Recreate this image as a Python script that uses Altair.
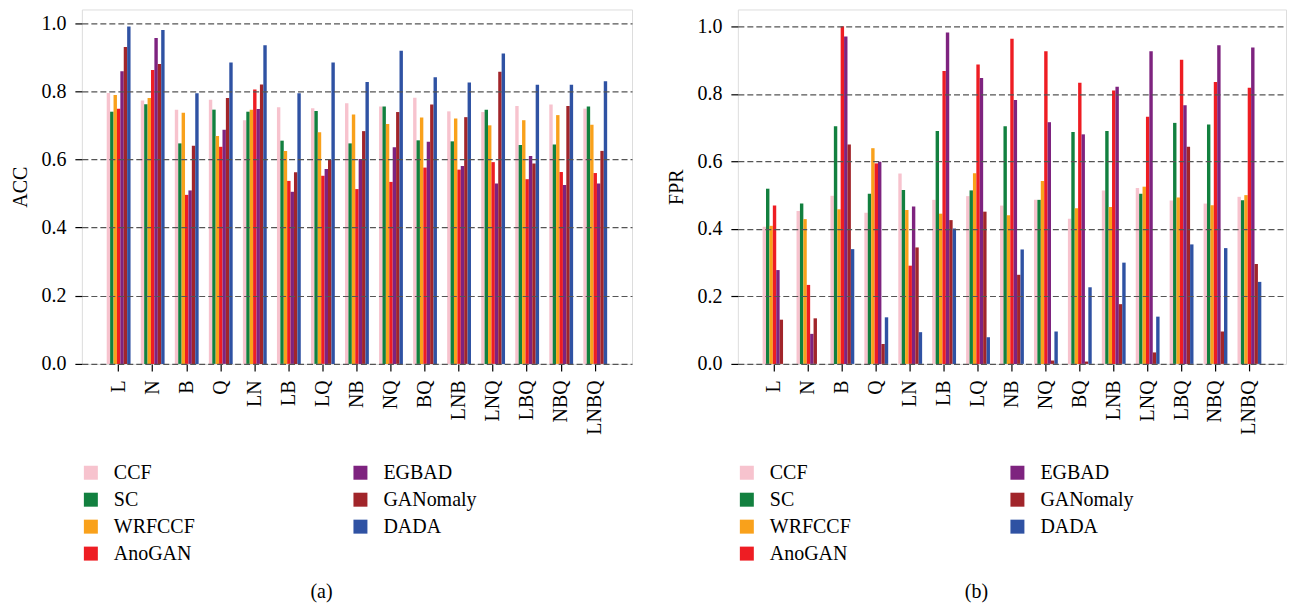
import altair as alt
import pandas as pd

categories = ["L", "N", "B", "Q", "LN", "LB", "LQ", "NB", "NQ", "BQ",
              "LNB", "LNQ", "LBQ", "NBQ", "LNBQ"]
series = ["CCF", "SC", "WRFCCF", "AnoGAN", "EGBAD", "GANomaly", "DADA"]
series_colors = ["#F7C3CE", "#12803F", "#F9A11B", "#EE1D23", "#7E237F", "#A1252A", "#2F52A3"]

# ACC values (panel a)
acc_ccf = [0.795, 0.773, 0.746, 0.775, 0.715, 0.753, 0.750, 0.765, 0.755, 0.781, 0.741, 0.739, 0.757, 0.761, 0.749]
acc_sc = [0.740, 0.762, 0.647, 0.746, 0.740, 0.655, 0.742, 0.647, 0.755, 0.656, 0.653, 0.746, 0.642, 0.644, 0.755]
acc_wrfccf = [0.789, 0.780, 0.737, 0.669, 0.746, 0.625, 0.680, 0.732, 0.704, 0.723, 0.720, 0.700, 0.715, 0.730, 0.702]
acc_anogan = [0.749, 0.862, 0.496, 0.637, 0.805, 0.537, 0.552, 0.513, 0.534, 0.576, 0.570, 0.592, 0.542, 0.563, 0.560]
acc_egbad = [0.859, 0.956, 0.509, 0.687, 0.748, 0.505, 0.572, 0.601, 0.636, 0.652, 0.581, 0.529, 0.610, 0.525, 0.529]
acc_ganomaly = [0.930, 0.880, 0.640, 0.780, 0.820, 0.562, 0.599, 0.683, 0.739, 0.761, 0.724, 0.857, 0.588, 0.757, 0.625]
acc_dada = [0.990, 0.980, 0.794, 0.884, 0.935, 0.794, 0.884, 0.827, 0.919, 0.841, 0.826, 0.911, 0.819, 0.819, 0.829]

# FPR values (panel b)
fpr_ccf = [0.406, 0.453, 0.498, 0.448, 0.564, 0.486, 0.497, 0.469, 0.486, 0.430, 0.514, 0.521, 0.484, 0.475, 0.495]
fpr_sc = [0.519, 0.475, 0.704, 0.504, 0.515, 0.690, 0.514, 0.704, 0.486, 0.687, 0.690, 0.504, 0.714, 0.709, 0.485]
fpr_wrfccf = [0.409, 0.429, 0.458, 0.639, 0.456, 0.445, 0.565, 0.440, 0.542, 0.461, 0.465, 0.525, 0.493, 0.470, 0.500]
fpr_anogan = [0.469, 0.234, 1.000, 0.594, 0.291, 0.868, 0.887, 0.963, 0.926, 0.833, 0.810, 0.732, 0.901, 0.835, 0.818]
fpr_egbad = [0.278, 0.089, 0.970, 0.599, 0.466, 0.982, 0.847, 0.782, 0.716, 0.680, 0.821, 0.926, 0.766, 0.944, 0.937]
fpr_ganomaly = [0.131, 0.135, 0.650, 0.059, 0.345, 0.426, 0.451, 0.264, 0.010, 0.007, 0.177, 0.034, 0.643, 0.096, 0.296]
fpr_dada = [0.0, 0.0, 0.340, 0.138, 0.094, 0.401, 0.079, 0.339, 0.096, 0.227, 0.300, 0.140, 0.354, 0.343, 0.243]

acc_values = [acc_ccf, acc_sc, acc_wrfccf, acc_anogan, acc_egbad, acc_ganomaly, acc_dada]
fpr_values = [fpr_ccf, fpr_sc, fpr_wrfccf, fpr_anogan, fpr_egbad, fpr_ganomaly, fpr_dada]

FONT = "Liberation Serif, Times New Roman, serif"


def long_table(values):
    rows = []
    for s, vals in zip(series, values):
        for c, v in zip(categories, vals):
            rows.append({"cat": c, "series": s, "value": v})
    return pd.DataFrame(rows)


def panel(values, ytitle, ymax, caption, width, col_pad):
    df = long_table(values)
    return alt.Chart(df).mark_bar().encode(
        x=alt.X("cat:N", sort=categories,
                scale=alt.Scale(paddingInner=0.3, paddingOuter=0.73),
                axis=alt.Axis(title=None, labelAngle=270, labelAlign="right",
                              labelBaseline="middle", labelPadding=9,
                              tickSize=7, tickColor="black", tickWidth=1.2,
                              domain=False, grid=False,
                              labelFont=FONT, labelFontSize=20, labelColor="black")),
        xOffset=alt.XOffset("series:N", sort=series,
                            scale=alt.Scale(paddingInner=0, paddingOuter=0)),
        y=alt.Y("value:Q", stack=None,
                scale=alt.Scale(domain=[0, ymax], nice=False, zero=True),
                axis=alt.Axis(title=ytitle, values=[0, 0.2, 0.4, 0.6, 0.8, 1.0],
                              format=".1f", grid=True, gridDash=[6, 3],
                              gridColor="#555555", gridWidth=1.2, zindex=1,
                              tickSize=7, tickColor="black", tickWidth=1.2,
                              domain=False, labelPadding=9, titlePadding=10,
                              labelFont=FONT, labelFontSize=20, labelColor="black",
                              titleFont=FONT, titleFontSize=20,
                              titleFontWeight="normal", titleColor="black")),
        color=alt.Color("series:N",
                        scale=alt.Scale(domain=series, range=series_colors),
                        legend=alt.Legend(orient="none", legendX=-1, legendY=454,
                                          columns=2, columnPadding=col_pad, rowPadding=7,
                                          title=None, symbolType="square",
                                          symbolSize=196, symbolStrokeWidth=0,
                                          symbolOpacity=1, labelOffset=13,
                                          labelFont=FONT, labelFontSize=20,
                                          labelColor="black", padding=0)),
    ).properties(
        width=width, height=355,
        title=alt.TitleParams(caption, orient="bottom", anchor="middle",
                              frame="bounds", offset=18, font=FONT,
                              fontSize=20, fontWeight="normal", color="black"),
    )


left = panel(acc_values, "ACC", 1.04, "(a)", 551, 155)
right = panel(fpr_values, "FPR", 1.05, "(b)", 549, 156)

chart = alt.hconcat(left, right, spacing=33).resolve_scale(
    color="independent"
).properties(
    padding={"left": 10, "top": 8, "right": 2, "bottom": 2}
).configure_view(
    stroke="black", strokeWidth=1.2
).configure(background="white")

chart.save("out.html", embed_options={"renderer": "svg", "actions": False})
